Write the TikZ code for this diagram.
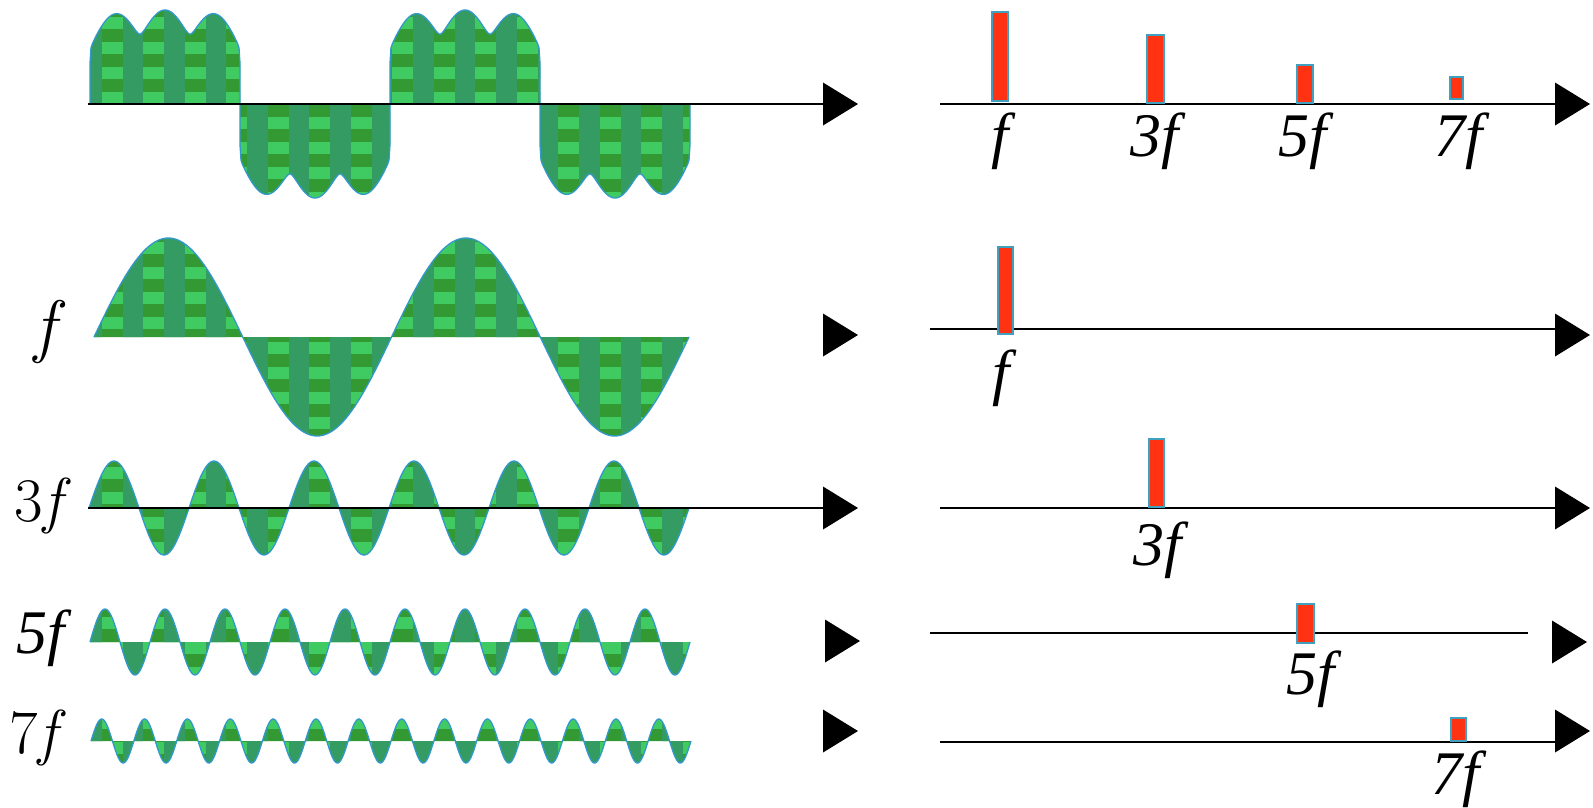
\documentclass[tikz,border=0pt]{standalone}
\usepackage{fontspec}
\newfontfamily\tms{Liberation Serif}
\definecolor{dotc}{HTML}{349C63}
\definecolor{lightc}{HTML}{40CB62}
\definecolor{darkc}{HTML}{339933}
\definecolor{outc}{HTML}{3399CC}
\definecolor{barc}{HTML}{FF3311}
\definecolor{barb}{HTML}{3FA0C0}
\newcommand\checkfill[4]{%
  \fill[darkc] (#1,#3) rectangle (#2,#4);
  \foreach \j in {0,...,31}{\fill[lightc] (#1,{16.7+25*\j}) rectangle (#2,{29.2+25*\j});}
  \foreach \k in {-1,...,15}{\fill[dotc] ({81.05+41.5*\k},#3) rectangle ({101.8+41.5*\k},#4);}
}
\newcommand\tri[2]{\fill[black] (#1,{#2-21.5}) -- ({#1+35},#2) -- (#1,{#2+21.5}) -- cycle;}
\newcommand\sqlobe[3]{% x0, axis, sign
  (#1,#2) -- plot[domain=0:150,samples=151] ({#1+\x},{#2-(#3)*94*pow(abs(sin(1.2*\x))+0.0001,0.06)*(0.75+0.25*(sqrt(sin(3.6*\x)*sin(3.6*\x)+0.04)-0.2)/0.8198)}) -- ({#1+150},#2) -- cycle}
\begin{document}
\begin{tikzpicture}[x=1pt,y=-1pt,
  axisline/.style={line width=2.2pt,black},
  outl/.style={draw=outc,line width=1.3pt},
  barsty/.style={fill=barc,draw=barb,line width=1.5pt},
  rlbl/.style={inner sep=0pt,anchor=base,font=\tms\itshape\fontsize{62}{62}\selectfont},
  llbl/.style={inner sep=0pt,anchor=base,font=\fontsize{62}{62}\selectfont}]
\useasboundingbox[fill=white] (0,0) rectangle (1593,807);

% ---------- Row 1: square-like wave ----------
\begin{scope}
  \clip \sqlobe{90}{104}{1} \sqlobe{240}{104}{-1} \sqlobe{390}{104}{1} \sqlobe{540}{104}{-1};
  \checkfill{88}{692}{5}{205}
\end{scope}
\draw[outl] \sqlobe{90}{104}{1};
\draw[outl] \sqlobe{240}{104}{-1};
\draw[outl] \sqlobe{390}{104}{1};
\draw[outl] \sqlobe{540}{104}{-1};
\coordinate (l1s) at (88,104);
\coordinate (l1e) at (823,104);
\draw[axisline] (l1s) -- (l1e);
\tri{823}{104}

% ---------- Row 2: f ----------
\begin{scope}
  \clip (94,337) -- plot[domain=0:595,samples=241] ({94+\x},{337-99*sin(1.2101*\x)}) -- cycle;
  \checkfill{90}{692}{230}{445}
\end{scope}
\draw[outl] plot[domain=0:595,samples=241] ({94+\x},{337-99*sin(1.2101*\x)});
\tri{823}{335}

% ---------- Row 3: 3f ----------
\begin{scope}
  \clip (89,508) -- plot[domain=0:600,samples=301] ({89+\x},{508-47*sin(3.6*\x)}) -- cycle;
  \checkfill{86}{692}{455}{562}
\end{scope}
\draw[outl] plot[domain=0:600,samples=301] ({89+\x},{508-47*sin(3.6*\x)});
\coordinate (l3s) at (88,508);
\coordinate (l3e) at (823,508);
\draw[axisline] (l3s) -- (l3e);
\tri{823}{508}

% ---------- Row 4: 5f ----------
\begin{scope}
  \clip (90,642) -- plot[domain=0:600,samples=401] ({90+\x},{642-33*sin(6*\x)}) -- cycle;
  \checkfill{86}{694}{605}{680}
\end{scope}
\draw[outl] plot[domain=0:600,samples=401] ({90+\x},{642-33*sin(6*\x)});
\tri{825}{641}

% ---------- Row 5: 7f ----------
\begin{scope}
  \clip (91,741) -- plot[domain=0:600,samples=421] ({91+\x},{741-22*sin(8.4*\x)}) -- cycle;
  \checkfill{86}{694}{714}{768}
\end{scope}
\draw[outl] plot[domain=0:600,samples=421] ({91+\x},{741-22*sin(8.4*\x)});
\tri{823}{731}

% ---------- Left labels ----------
\node[inner sep=0pt,anchor=base,font=\itshape\fontsize{70}{70}\selectfont] (lf) at (45,349) {f};
\node[llbl] (l3f) at (43,521) {3\textit{f}};
\node[rlbl] (l5f) at (41,653) {5f};
\node[llbl] (l7f) at (38,753) {7\textit{f}};

% ---------- Right spectra ----------
% Row 1
\coordinate (r1s) at (940,104);
\coordinate (r1e) at (1555,104);
\draw[axisline] (r1s) -- (r1e);
\tri{1555}{104}
\path[barsty] (992,12) rectangle (1008,101);
\path[barsty] (1147,35) rectangle (1164,103);
\path[barsty] (1297,65) rectangle (1313,103);
\path[barsty] (1450,77) rectangle (1463,99);
\node[rlbl] (r1a) at (1000,156) {f};
\node[rlbl] (r1b) at (1155,156) {3f};
\node[rlbl] (r1c) at (1303,156) {5f};
\node[rlbl] (r1d) at (1459,156) {7f};
% Row 2
\coordinate (r2s) at (930,329);
\coordinate (r2e) at (1555,329);
\draw[axisline] (r2s) -- (r2e);
\tri{1555}{335}
\path[barsty] (998,247) rectangle (1013,334);
\node[rlbl] (r2a) at (1001,393) {f};
% Row 3
\coordinate (r3s) at (940,508);
\coordinate (r3e) at (1555,508);
\draw[axisline] (r3s) -- (r3e);
\tri{1555}{508}
\path[barsty] (1149,439) rectangle (1164,507);
\node[rlbl] (r3a) at (1158,565) {3f};
% Row 4
\coordinate (r4s) at (930,633);
\coordinate (r4e) at (1528,633);
\draw[axisline] (r4s) -- (r4e);
\tri{1552}{642}
\path[barsty] (1297,604) rectangle (1314,643);
\node[rlbl] (r4a) at (1311,694) {5f};
% Row 5
\coordinate (r5s) at (940,742);
\coordinate (r5e) at (1555,742);
\draw[axisline] (r5s) -- (r5e);
\tri{1555}{731}
\path[barsty] (1451,718) rectangle (1466,741);
\node[rlbl] (r5a) at (1456,794) {7f};
\end{tikzpicture}
\end{document}
